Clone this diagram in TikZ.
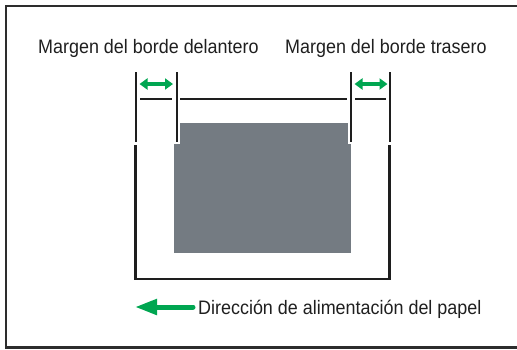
\documentclass[tikz,border=0pt]{standalone}
\usepackage{fontspec}
\setmainfont{Liberation Sans}
\usetikzlibrary{arrows.meta}
\definecolor{feedgreen}{RGB}{0,166,81}
\definecolor{sheetgray}{RGB}{116,123,130}
\definecolor{inkline}{RGB}{30,30,30}
\definecolor{framegray}{RGB}{45,45,45}
\begin{document}
\begin{tikzpicture}[x=1pt,y=-1pt,
  lbl/.style={anchor=base west,inner sep=0pt,font=\fontsize{19.5}{22}\selectfont,text=black!88},
  extline/.style={draw=inkline,line width=2pt},
  halo/.style={draw=white,line width=7pt},
  edgeline/.style={draw=inkline,line width=2.6pt},
  topline/.style={draw=inkline,line width=2pt},
  marginarrow/.style={draw=feedgreen,line width=3.3pt,{Triangle[length=8pt,width=11pt]}-{Triangle[length=8pt,width=11pt]}},
  feedarrow/.style={draw=feedgreen,line width=5pt,line cap=round,-{Triangle[length=22pt,width=15pt]}}
]
\useasboundingbox (0,0) rectangle (517,349);
% outer frame (right side falls outside the picture)
\draw[framegray,line width=2.4pt] (520,6) -- (6,6) -- (6,347.5) -- (520,347.5);

% printable area
\fill[sheetgray] (174,123) rectangle (351,253);

% coordinates
\coordinate (L1t) at (135.5,72);   \coordinate (L1b) at (135.5,142);
\coordinate (L2t) at (176.5,72);   \coordinate (L2b) at (176.5,142);
\coordinate (R1t) at (351,72);     \coordinate (R1b) at (351,142);
\coordinate (R2t) at (390,72);     \coordinate (R2b) at (390,142);
\coordinate (SLt) at (135.5,145);  \coordinate (SLb) at (135.5,279);
\coordinate (SRt) at (389.5,145);  \coordinate (SRb) at (389.5,279);

% sheet outline (open U)
\draw[edgeline] (SLt) -- (SLb) -- (SRb) -- (SRt);

% top edge segments
\coordinate (T1a) at (140,99);  \coordinate (T1b) at (172,99);
\coordinate (T2a) at (180,99);  \coordinate (T2b) at (347,99);
\coordinate (T3a) at (355,99);  \coordinate (T3b) at (386,99);
\draw[topline] (T1a) -- (T1b);
\draw[topline] (T2a) -- (T2b);
\draw[topline] (T3a) -- (T3b);

% extension lines
\draw[extline] (L1t) -- (L1b);
\draw[halo] (176.5,120) -- (176.5,144);
\draw[extline] (L2t) -- (L2b);
\draw[halo] (351,120) -- (351,144);
\draw[extline] (R1t) -- (R1b);
\draw[extline] (R2t) -- (R2b);

% margin arrows
\coordinate (ALa) at (139.5,84); \coordinate (ALb) at (173,84);
\coordinate (ARa) at (354.5,84); \coordinate (ARb) at (387.5,84);
\draw[marginarrow] (ALa) -- (ALb);
\draw[marginarrow] (ARa) -- (ARb);

% labels
\node[lbl] (lead) at (38,53) {\scalebox{0.92}[1]{Margen del borde delantero}};
\node[lbl] (trail) at (285,53) {\scalebox{0.92}[1]{Margen del borde trasero}};
\node[lbl] (feed) at (198,314) {\scalebox{0.92}[1]{Dirección de alimentación del papel}};

% feed direction arrow
\coordinate (FA) at (193,307);
\coordinate (FB) at (135,307);
\draw[feedarrow] (FA) -- (FB);
\end{tikzpicture}
\end{document}
